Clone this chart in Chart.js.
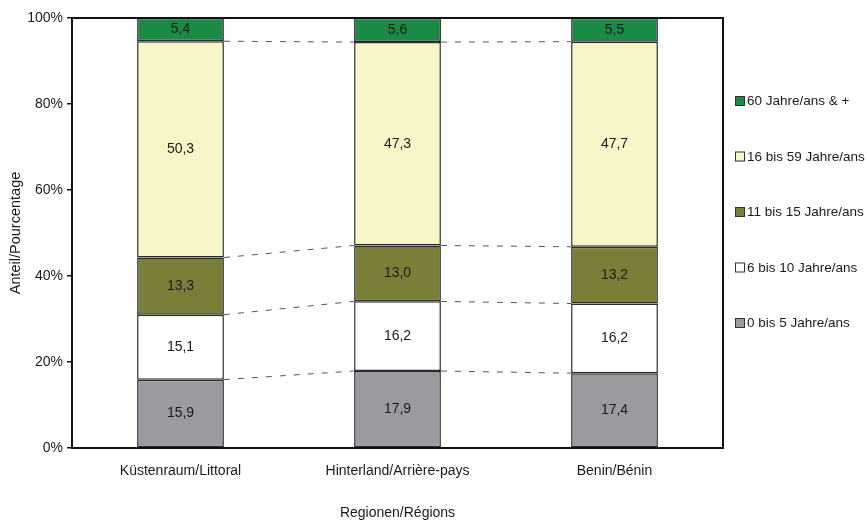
<!DOCTYPE html>
<html>
<head>
<meta charset="utf-8">
<script src="https://cdn.jsdelivr.net/npm/chart.js@4.4.1/dist/chart.umd.min.js"></script>
<style>
  html, body { margin: 0; padding: 0; background: #fff; }
  #wrap { position: relative; width: 867px; height: 522px; }
</style>
</head>
<body>
<div id="wrap"><canvas id="chart"></canvas></div>
<script>
// Regionen
const regions = ['Küstenraum/Littoral', 'Hinterland/Arrière-pays', 'Benin/Bénin'];

// Altersgruppen (von unten nach oben gestapelt)
const ageGroups = ['0 bis 5 Jahre/ans', '6 bis 10 Jahre/ans', '11 bis 15 Jahre/ans', '16 bis 59 Jahre/ans', '60 Jahre/ans & +'];
const age0to5   = [15.9, 17.9, 17.4];
const age6to10  = [15.1, 16.2, 16.2];
const age11to15 = [13.3, 13.0, 13.2];
const age16to59 = [50.3, 47.3, 47.7];
const age60plus = [5.4, 5.6, 5.5];

const yTicks = [0, 20, 40, 60, 80, 100];

const seriesValues = [age0to5, age6to10, age11to15, age16to59, age60plus];
const seriesColors = ['#9a9b9e', '#ffffff', '#7b7e36', '#f8f6c9', '#1b8a46'];

const FONT = '"Liberation Sans", Arial, sans-serif';

// Werte als Prozent der Summe je Region
const totals = regions.map((_, i) => seriesValues.reduce((s, arr) => s + arr[i], 0));
const fmt = (v) => v.toFixed(1).replace('.', ',');

// Rahmen um die Zeichenfläche (oben und rechts)
const frame = {
    id: 'frame',
    afterDatasetsDraw(chart) {
        const { ctx, chartArea: a } = chart;
        ctx.save();
        ctx.strokeStyle = '#111';
        ctx.lineWidth = 2;
        ctx.beginPath();
        ctx.moveTo(a.left, a.top);
        ctx.lineTo(a.right, a.top);
        ctx.lineTo(a.right, a.bottom);
        ctx.stroke();
        ctx.restore();
    }
};

// Verbindungslinien zwischen den Säulen (Excel "Reihenlinien")
const seriesLines = {
    id: 'seriesLines',
    beforeDatasetsDraw(chart) {
        const { ctx } = chart;
        const n = chart.data.datasets.length;
        ctx.save();
        ctx.strokeStyle = '#555';
        ctx.lineWidth = 1;
        ctx.setLineDash([6, 8]);
        for (let d = 0; d < n - 1; d++) {
            const meta = chart.getDatasetMeta(d);
            for (let i = 0; i < meta.data.length - 1; i++) {
                const a = meta.data[i], b = meta.data[i + 1];
                ctx.beginPath();
                ctx.moveTo(a.x + a.width / 2, a.y);
                ctx.lineTo(b.x - b.width / 2, b.y);
                ctx.stroke();
            }
        }
        ctx.restore();
    }
};

// Werte in die Segmente schreiben
const valueLabels = {
    id: 'valueLabels',
    afterDatasetsDraw(chart) {
        const { ctx } = chart;
        ctx.save();
        ctx.font = '14px ' + FONT;
        ctx.fillStyle = '#1a1a1a';
        ctx.textAlign = 'center';
        ctx.textBaseline = 'middle';
        chart.data.datasets.forEach((ds, d) => {
            chart.getDatasetMeta(d).data.forEach((bar, i) => {
                const cy = (bar.y + bar.base) / 2;
                ctx.fillText(fmt(seriesValues[d][i]), bar.x, cy);
            });
        });
        ctx.restore();
    }
};

// Legende rechts, oberste Gruppe zuerst
const sideLegend = {
    id: 'sideLegend',
    afterDraw(chart) {
        const { ctx } = chart;
        const ds = chart.data.datasets.slice().reverse();
        const x0 = 735, y0 = 101, step = 55.5, box = 10;
        ctx.save();
        ctx.font = '13.5px ' + FONT;
        ctx.textBaseline = 'middle';
        ctx.textAlign = 'left';
        ds.forEach((d, k) => {
            const y = y0 + k * step;
            ctx.fillStyle = d.backgroundColor;
            ctx.fillRect(x0, y - box / 2, box, box);
            ctx.strokeStyle = '#333';
            ctx.lineWidth = 1;
            ctx.strokeRect(x0 + 0.5, y - box / 2 + 0.5, box - 1, box - 1);
            ctx.fillStyle = '#1a1a1a';
            ctx.fillText(d.label, x0 + box + 2, y + 0.5);
        });
        ctx.restore();
    }
};

new Chart(document.getElementById('chart'), {
    type: 'bar',
    data: {
        labels: regions,
        datasets: ageGroups.map((g, d) => ({
            label: g,
            data: seriesValues[d].map((v, i) => v / totals[i] * 100),
            backgroundColor: seriesColors[d],
            borderColor: '#2a2a2a',
            borderWidth: 1.5,
            borderSkipped: false,
            categoryPercentage: 1,
            barPercentage: 0.4
        }))
    },
    options: {
        responsive: true,
        maintainAspectRatio: false,
        animation: false,
        layout: { padding: { top: 18, right: 144, left: 0, bottom: 0 } },
        scales: {
            x: {
                stacked: true,
                grid: { display: false },
                border: { display: true, color: '#111', width: 2 },
                ticks: { color: '#1a1a1a', font: { family: FONT, size: 14 }, padding: 7, maxRotation: 0 },
                title: {
                    display: true, text: 'Regionen/Régions',
                    color: '#1a1a1a', font: { family: FONT, size: 14 }, padding: { top: 0, bottom: 0 }
                },
                afterFit: (scale) => { scale.height = 74; }
            },
            y: {
                stacked: true,
                min: 0,
                max: 100,
                afterBuildTicks: (scale) => { scale.ticks = yTicks.map(v => ({ value: v })); },
                grid: { display: true, drawOnChartArea: false, drawTicks: true, tickLength: 5, color: '#111', lineWidth: 1.5 },
                border: { display: true, color: '#111', width: 2 },
                ticks: {
                    color: '#1a1a1a', font: { family: FONT, size: 14 }, padding: 4,
                    callback: (v) => v + '%'
                },
                title: {
                    display: true, text: 'Anteil/Pourcentage',
                    color: '#1a1a1a', font: { family: FONT, size: 14.5 }, padding: { top: 7, bottom: 4 }
                },
                afterFit: (scale) => { scale.width = 72; }
            }
        },
        plugins: {
            legend: { display: false },
            tooltip: { enabled: false }
        }
    },
    plugins: [seriesLines, frame, valueLabels, sideLegend]
});
</script>
</body>
</html>
